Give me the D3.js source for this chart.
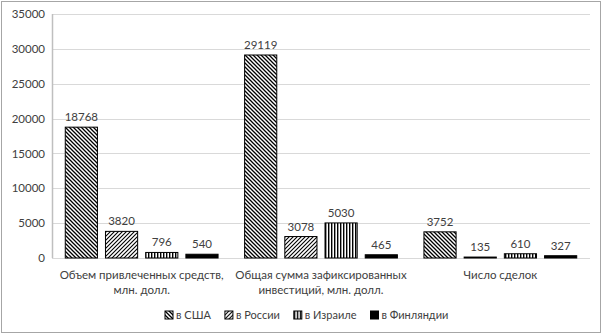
<!DOCTYPE html>
<html>
<head>
<meta charset="utf-8">
<script src="https://cdn.jsdelivr.net/npm/d3@7"></script>
<style>
  body { margin: 0; background: #fff; }
  svg { display: block; }
  text { font-family: Lato, "Open Sans", sans-serif; fill: #404040; }
</style>
</head>
<body>
<div id="chart"></div>
<script>
// categories (each label is split into lines)
var categories = [
  ['Объем привлеченных средств,', 'млн. долл.'],
  ['Общая сумма зафиксированных', 'инвестиций, млн. долл.'],
  ['Число сделок']
];
var seriesNames = ['в США', 'в России', 'в Израиле', 'в Финляндии'];
var usa = [18768, 29119, 3752];
var russia = [3820, 3078, 135];
var israel = [796, 5030, 610];
var finland = [540, 465, 327];
var yTicks = [0, 5000, 10000, 15000, 20000, 25000, 30000, 35000];

var series = [usa, russia, israel, finland];
var patternIds = ['p-usa', 'p-rus', 'p-isr', 'p-fin'];

var width = 602, height = 335;
var margin = {top: 14, right: 12, bottom: 77, left: 52};
var innerW = width - margin.left - margin.right,
    innerH = height - margin.top - margin.bottom;

var svg = d3.select("#chart").append("svg")
  .attr("width", width)
  .attr("height", height);

// hatch patterns
var defs = svg.append("defs");
function hatch(id, size, draw) {
  var p = defs.append("pattern")
    .attr("id", id)
    .attr("patternUnits", "userSpaceOnUse")
    .attr("width", size)
    .attr("height", size);
  p.append("rect").attr("width", size).attr("height", size).attr("fill", "#fff");
  draw(p);
}
hatch('p-usa', 4, function(p) {
  p.append("path").attr("d", "M-1,-1 L5,5 M-1,3 L1,5 M3,-1 L5,1")
    .attr("stroke", "#000").attr("stroke-width", 1.3);
});
hatch('p-rus', 4, function(p) {
  p.append("path").attr("d", "M-1,5 L5,-1 M-1,1 L1,-1 M3,5 L5,3")
    .attr("stroke", "#000").attr("stroke-width", 1.1);
});
hatch('p-isr', 3, function(p) {
  p.append("rect").attr("x", 0).attr("y", 0).attr("width", 1.4).attr("height", 3).attr("fill", "#000");
});
hatch('p-fin', 4, function(p) {
  p.append("rect").attr("width", 4).attr("height", 4).attr("fill", "#000");
});

// outer border
svg.append("rect")
  .attr("x", 1.5).attr("y", 1.5)
  .attr("width", width - 3).attr("height", height - 4)
  .attr("fill", "none")
  .attr("stroke", "#a6a6a6");

var g = svg.append("g")
  .attr("transform", "translate(" + margin.left + "," + margin.top + ")");

var x0 = d3.scaleBand()
  .domain(d3.range(categories.length))
  .range([0, innerW])
  .paddingInner(0)
  .paddingOuter(0);

var x1 = d3.scaleBand()
  .domain(d3.range(series.length))
  .range([0, x0.bandwidth()])
  .paddingInner(0.2)
  .paddingOuter(0.33);

var y = d3.scaleLinear()
  .domain([0, 35000])
  .range([innerH, 0]);

// gridlines
g.selectAll(".grid")
  .data(yTicks)
  .enter().append("line")
  .attr("x1", 0).attr("x2", innerW)
  .attr("y1", function(d) { return Math.round(y(d)) + 0.5; })
  .attr("y2", function(d) { return Math.round(y(d)) + 0.5; })
  .attr("stroke", "#d9d9d9");

// y axis
var yAxis = g.append("g")
  .call(d3.axisLeft(y).tickValues(yTicks).tickSize(0).tickPadding(7).tickFormat(d3.format("d")));
yAxis.select(".domain").remove();
yAxis.selectAll("text").style("font-size", "11.5px").attr("fill", "#404040");
g.append("line")
  .attr("x1", 0.5).attr("x2", 0.5)
  .attr("y1", 0).attr("y2", innerH)
  .attr("stroke", "#bfbfbf")
  .attr("stroke-width", 1.5);

// bars
series.forEach(function(vals, si) {
  var grp = g.append("g");
  grp.selectAll("rect")
    .data(vals)
    .enter().append("rect")
    .attr("x", function(d, i) { return x0(i) + x1(si); })
    .attr("y", function(d) { return y(d); })
    .attr("width", x1.bandwidth())
    .attr("height", function(d) { return innerH - y(d); })
    .attr("fill", "url(#" + patternIds[si] + ")")
    .attr("stroke", "#000")
    .attr("stroke-width", 1);

  grp.selectAll("text")
    .data(vals)
    .enter().append("text")
    .attr("x", function(d, i) { return x0(i) + x1(si) + x1.bandwidth() / 2; })
    .attr("y", function(d) { return y(d) - 6; })
    .attr("text-anchor", "middle")
    .style("font-size", "11.5px")
    .text(function(d) { return d; });
});

// category labels
categories.forEach(function(lines, i) {
  var t = g.append("text")
    .attr("text-anchor", "middle")
    .attr("x", x0(i) + x0.bandwidth() / 2)
    .attr("y", innerH + 21)
    .style("font-size", "11.5px");
  lines.forEach(function(line, j) {
    t.append("tspan")
      .attr("x", x0(i) + x0.bandwidth() / 2)
      .attr("dy", j === 0 ? 0 : 15)
      .text(line);
  });
});

// legend
var legend = svg.append("g").attr("transform", "translate(0,315)");
var lx = 165;
seriesNames.forEach(function(name, i) {
  var item = legend.append("g").attr("transform", "translate(" + lx + ",0)");
  item.append("rect")
    .attr("x", 0).attr("y", -4)
    .attr("width", 8).attr("height", 8)
    .attr("fill", "url(#" + patternIds[i] + ")")
    .attr("stroke", "#000");
  var t = item.append("text")
    .attr("x", 11)
    .attr("y", 4)
    .style("font-size", "11px")
    .text(name);
  lx += 11 + t.node().getComputedTextLength() + 14;
});
</script>
</body>
</html>
